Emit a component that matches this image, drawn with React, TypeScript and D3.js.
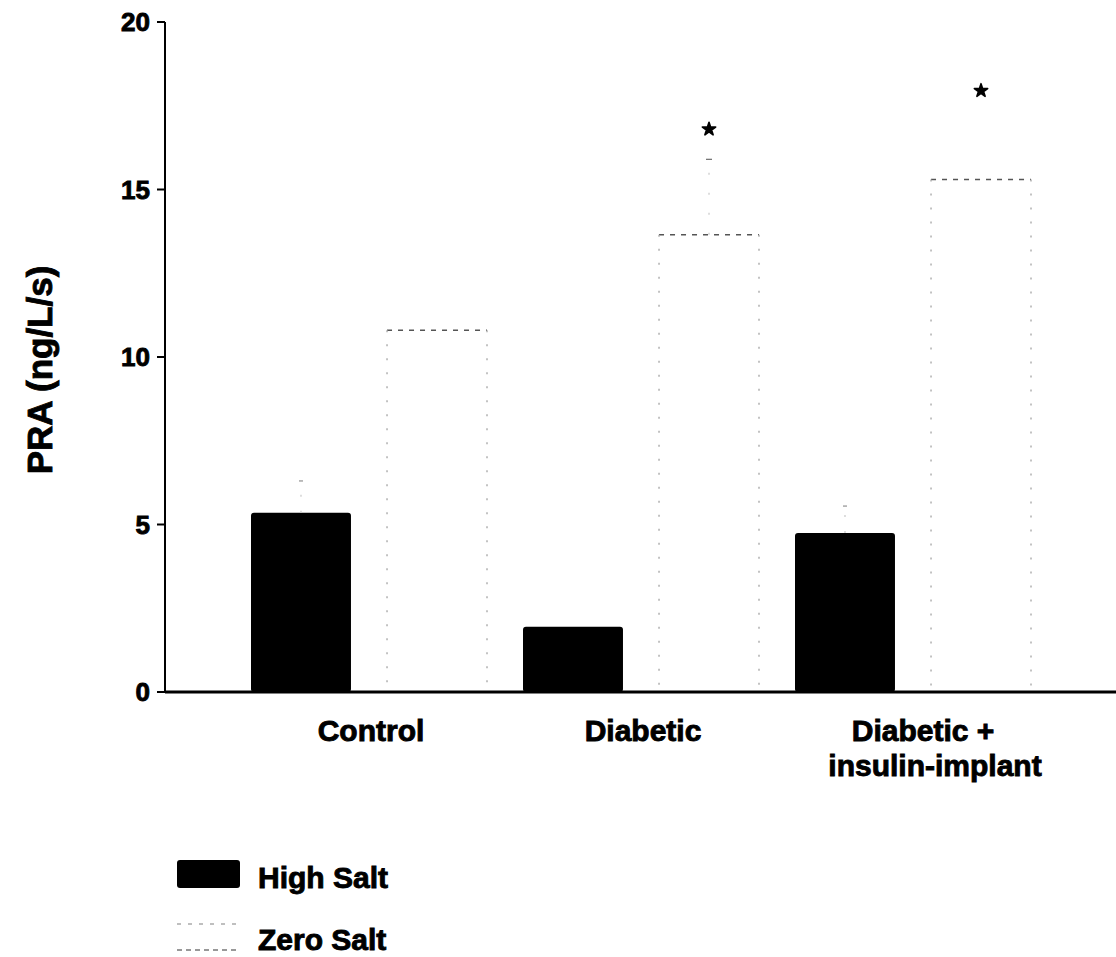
import React from "react";
import * as d3 from "d3";

// Plasma renin activity by group and dietary salt
const categories = ["Control", "Diabetic", "Diabetic +\ninsulin-implant"];
const seriesNames = ["High Salt", "Zero Salt"];
const highSalt = [5.35, 1.95, 4.75];
const zeroSalt = [10.8, 13.65, 15.3];
const highSaltErr = [0.95, 0, 0.8];
const zeroSaltErr = [0, 2.25, 0];
const significance = [null, 16.8, 17.95]; // "*" positions (vs. control)
const yTicks = [0, 5, 10, 15, 20];

const FONT = "'Liberation Sans', Arial, Helvetica, sans-serif";

export default function App() {
  const width = 1116;
  const height = 957;
  const axisX = 165;

  const y = d3.scaleLinear().domain([0, 20]).range([692, 22]);
  const x0 = d3.scaleBand<string>().domain(categories).range([233, 1049]).padding(0);
  const x1 = d3
    .scaleBand<string>()
    .domain(seriesNames)
    .range([18, 254])
    .paddingInner(0.265)
    .paddingOuter(0);

  const bw = x1.bandwidth();
  const heavy = { stroke: "#000", strokeWidth: 0.9 } as const;

  return (
    <svg
      width={width}
      height={height}
      style={{ position: "absolute", left: 0, top: 0, background: "#fff" }}
      fontFamily={FONT}
      fontWeight="bold"
    >
      {/* bars */}
      {categories.map((c, i) => {
        const gx = x0(c)!;
        const hx = gx + x1("High Salt")!;
        const zx = gx + x1("Zero Salt")!;
        const hTop = y(highSalt[i]);
        const zTop = y(zeroSalt[i]);
        return (
          <g key={c}>
            <rect x={hx} y={hTop} width={bw} height={y(0) - hTop} rx={3} fill="#000" />
            {/* zero-salt bar: open, dotted outline */}
            <line x1={zx} x2={zx + bw} y1={zTop} y2={zTop} stroke="#555" strokeWidth={1.6} strokeDasharray="5 6" />
            <line x1={zx} x2={zx} y1={zTop} y2={y(0)} stroke="#aaa" strokeWidth={1.4} strokeDasharray="2 12" />
            <line x1={zx + bw} x2={zx + bw} y1={zTop} y2={y(0)} stroke="#aaa" strokeWidth={1.4} strokeDasharray="2 12" />
            {/* error bars (faint) */}
            {highSaltErr[i] > 0 && (
              <g stroke="#ccc" strokeWidth={1.3}>
                <line x1={hx + bw / 2} x2={hx + bw / 2} y1={hTop} y2={y(highSalt[i] + highSaltErr[i])} strokeDasharray="2 14" />
                <line x1={hx + bw / 2 - 2} x2={hx + bw / 2 + 2} y1={y(highSalt[i] + highSaltErr[i])} y2={y(highSalt[i] + highSaltErr[i])} stroke="#999" />
              </g>
            )}
            {zeroSaltErr[i] > 0 && (
              <g stroke="#ccc" strokeWidth={1.3}>
                <line x1={zx + bw / 2} x2={zx + bw / 2} y1={zTop} y2={y(zeroSalt[i] + zeroSaltErr[i])} strokeDasharray="2 18" />
                <line x1={zx + bw / 2 - 3} x2={zx + bw / 2 + 3} y1={y(zeroSalt[i] + zeroSaltErr[i])} y2={y(zeroSalt[i] + zeroSaltErr[i])} stroke="#777" />
              </g>
            )}
            {significance[i] !== null && (
              <path
                d={d3.symbol(d3.symbolStar, 55)()!}
                transform={`translate(${zx + bw / 2},${y(significance[i] as number)})`}
                fill="#000"
                stroke="#000"
                strokeWidth={1.6}
                strokeLinejoin="round"
              />
            )}
          </g>
        );
      })}

      {/* y axis */}
      <line x1={axisX} x2={axisX} y1={y(20)} y2={y(0)} stroke="#000" strokeWidth={2} />
      {yTicks.map((t) => (
        <g key={t}>
          <line x1={axisX - 8} x2={axisX} y1={y(t)} y2={y(t)} stroke="#000" strokeWidth={2} />
          <text x={150} y={y(t)} dy="0.36em" textAnchor="end" fontSize={26} {...heavy}>
            {t}
          </text>
        </g>
      ))}
      {/* x axis */}
      <line x1={axisX} x2={width} y1={y(0)} y2={y(0)} stroke="#000" strokeWidth={3} />

      {/* category labels */}
      {categories.map((c) => {
        const lines = c.split("\n");
        const cx = x0(c)! + x0.bandwidth() / 2;
        return (
          <text key={c} y={741} textAnchor="middle" fontSize={30} {...heavy}>
            {lines.map((l, j) => (
              <tspan key={j} x={cx + (lines.length > 1 ? (j === 0 ? 10 : 22) : 2)} dy={j === 0 ? 0 : 35}>
                {l}
              </tspan>
            ))}
          </text>
        );
      })}

      {/* y axis title */}
      <text transform="translate(52,370) rotate(-90)" textAnchor="middle" fontSize={35} {...heavy}>
        PRA (ng/L/s)
      </text>

      {/* legend */}
      <rect x={177} y={860} width={63} height={28} rx={3} fill="#000" />
      <text x={258} y={888} fontSize={30} {...heavy}>
        {seriesNames[0]}
      </text>
      <line x1={177} x2={240} y1={924} y2={924} stroke="#aaa" strokeWidth={1.3} strokeDasharray="4 7" />
      <line x1={177} x2={240} y1={950} y2={950} stroke="#777" strokeWidth={1.3} strokeDasharray="5 4" />
      <text x={258} y={950} fontSize={30} {...heavy}>
        {seriesNames[1]}
      </text>
    </svg>
  );
}
